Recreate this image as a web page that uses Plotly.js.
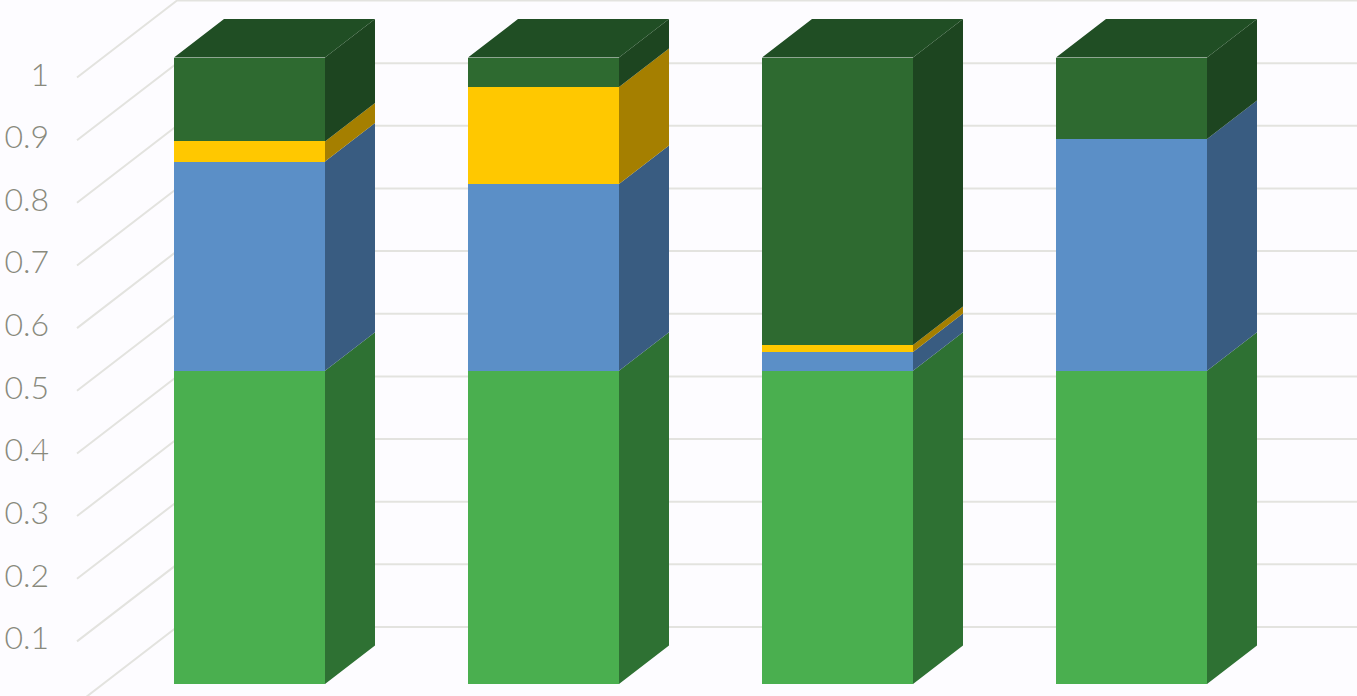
<!DOCTYPE html>
<html><head><meta charset="utf-8">
<script src="https://cdn.plot.ly/plotly-3.0.1.min.js"></script>
<style>html,body{margin:0;padding:0;background:#fdfcff;overflow:hidden;}</style>
</head><body><div id="chart" style="width:1357px;height:696px;"></div>
<script>
// ---- data ----
const categories = [0, 1, 2, 3];
const seriesGreen = [0.5, 0.5, 0.5, 0.5];
const seriesBlue = [0.334, 0.298, 0.030, 0.370];
const seriesYellow = [0.032, 0.155, 0.011, 0];
const seriesDarkGreen = [0.134, 0.047, 0.459, 0.130];
const tickValues = [0, 0.1, 0.2, 0.3, 0.4, 0.5, 0.6, 0.7, 0.8, 0.9, 1];
const tickLabels = ['0', '0.1', '0.2', '0.3', '0.4', '0.5', '0.6', '0.7', '0.8', '0.9', '1'];

// ---- styling / geometry ----
const W = 1357, H = 696;
const pxPerCat = 294, firstCentre = 249.5, pxPerUnit = 626.5, zeroPx = 684;
const xRange = [-firstCentre / pxPerCat, (W - firstCentre) / pxPerCat];
const yRange = [(zeroPx - H) / pxPerUnit, zeroPx / pxPerUnit];
const barWidth = 151 / pxPerCat;
const DX = 100 / pxPerCat, DY = 77 / pxPerUnit;   // full depth of the chart box
const dBarFront = 0.26, dBarBack = 0.76;
const wallFrontX = (77 - firstCentre) / pxPerCat;  // left wall, front edge (projected)
const labelX = (49 - firstCentre) / pxPerCat;
function proj(x, v, d) { return [x + (d - dBarFront) * DX, v + (d - dBarFront) * DY]; }

const series = [
  {vals: seriesGreen, front: '#4aaf4f', side: '#2e7133', top: '#2b6a30'},
  {vals: seriesBlue, front: '#5b8fc7', side: '#395c81', top: '#395c81'},
  {vals: seriesYellow, front: '#ffc800', side: '#a57f00', top: '#a57f00'},
  {vals: seriesDarkGreen, front: '#2e6a30', side: '#1d4520', top: '#204e24'}
];
const gridColor = '#e3e3df';

const traces = [];

// gridlines: left wall diagonals + back wall horizontals
const gx = [], gy = [];
tickValues.forEach(v => {
  const wx = wallFrontX + dBarFront * DX;
  const a = proj(wx, v, 0), b = proj(wx, v, 1);
  gx.push(a[0], b[0], xRange[1] + 0.2, null);
  gy.push(a[1], b[1], b[1], null);
});
traces.push({type: 'scatter', mode: 'lines', x: gx, y: gy, xaxis: 'x', yaxis: 'y',
  line: {color: gridColor, width: 2}, hoverinfo: 'skip', showlegend: false});

// tick labels on the front edge of the left wall
traces.push({type: 'scatter', mode: 'text', xaxis: 'x', yaxis: 'y',
  x: tickValues.map(() => labelX),
  y: tickValues.map(v => proj(0, v, 0)[1]),
  text: tickLabels, textposition: 'middle left', cliponaxis: false,
  textfont: {family: 'Lato, "Open Sans", sans-serif', size: 32, weight: 300, color: '#898a7d'},
  hoverinfo: 'skip', showlegend: false});

// front faces (stacked bars)
series.forEach(s => {
  traces.push({type: 'bar', x: categories, y: s.vals, width: barWidth,
    xaxis: 'x2', yaxis: 'y2', marker: {color: s.front, line: {width: 0}},
    hoverinfo: 'skip', showlegend: false});
});

// side faces
const base = categories.map(() => 0);
series.forEach(s => {
  const sx = [], sy = [];
  categories.forEach((c, i) => {
    const b = base[i], t = b + s.vals[i];
    if (s.vals[i] > 0) {
      const xr = c + barWidth / 2;
      const p1 = proj(xr, b, dBarFront), p2 = proj(xr, b, dBarBack),
            p3 = proj(xr, t, dBarBack), p4 = proj(xr, t, dBarFront);
      sx.push(p1[0], p2[0], p3[0], p4[0], p1[0], null);
      sy.push(p1[1], p2[1], p3[1], p4[1], p1[1], null);
    }
    base[i] = t;
  });
  traces.push({type: 'scatter', mode: 'lines', x: sx, y: sy, xaxis: 'x2', yaxis: 'y2',
    fill: 'toself', fillcolor: s.side, line: {width: 0, color: s.side},
    hoverinfo: 'skip', showlegend: false});
});

// top faces (colour of the top segment)
const topSeries = series[series.length - 1];
const tx = [], ty = [];
categories.forEach((c, i) => {
  const t = base[i];
  const xl = c - barWidth / 2, xr = c + barWidth / 2;
  const p1 = proj(xl, t, dBarFront), p2 = proj(xl, t, dBarBack),
        p3 = proj(xr, t, dBarBack), p4 = proj(xr, t, dBarFront);
  tx.push(p1[0], p2[0], p3[0], p4[0], p1[0], null);
  ty.push(p1[1], p2[1], p3[1], p4[1], p1[1], null);
});
traces.push({type: 'scatter', mode: 'lines', x: tx, y: ty, xaxis: 'x2', yaxis: 'y2',
  fill: 'toself', fillcolor: topSeries.top, line: {width: 0, color: topSeries.top},
  hoverinfo: 'skip', showlegend: false});

const axisCommon = {showgrid: false, zeroline: false, showticklabels: false, showline: false,
  ticks: '', fixedrange: true};
const layout = {
  width: W, height: H, autosize: false,
  margin: {l: 0, r: 0, t: 0, b: 0, pad: 0},
  paper_bgcolor: '#fdfcff', plot_bgcolor: '#fdfcff',
  barmode: 'stack', bargap: 0, showlegend: false,
  xaxis: Object.assign({range: xRange}, axisCommon),
  yaxis: Object.assign({range: yRange}, axisCommon),
  xaxis2: Object.assign({range: xRange, overlaying: 'x'}, axisCommon),
  yaxis2: Object.assign({range: yRange, overlaying: 'y'}, axisCommon)
};
Plotly.newPlot('chart', traces, layout, {staticPlot: true, displayModeBar: false});
</script></body></html>
